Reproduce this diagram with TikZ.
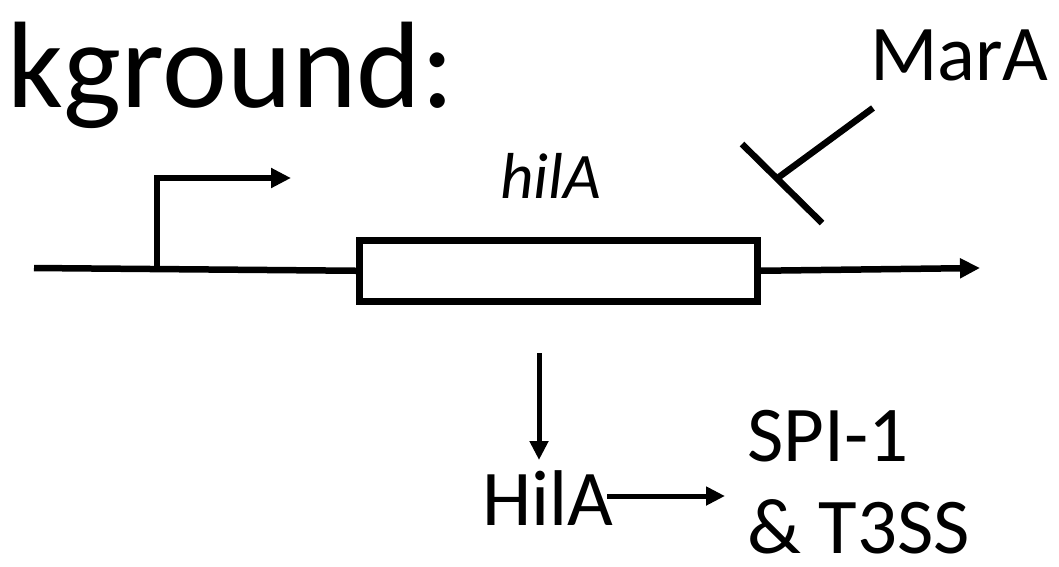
\documentclass[tikz,border=0pt]{standalone}
\usepackage{fontspec}
\setmainfont{Carlito}
\usetikzlibrary{arrows.meta}
\tikzset{
  dna/.style={line width=6.5pt},
  tip/.style={-{Triangle[length=20pt,width=19pt]}},
  thin arrow/.style={line width=5pt,-{Triangle[length=19pt,width=18pt]}},
  lbl/.style={inner sep=0pt,outer sep=0pt,anchor=base west,font=\fontsize{79}{95}\selectfont},
}
\begin{document}
\begin{tikzpicture}[x=1pt,y=-1pt]
\useasboundingbox (0,0) rectangle (1059,566);
% title
\node[lbl,font=\fontsize{123}{130}\selectfont] (title) at (8,107) {kground:};
% DNA
\coordinate (start) at (34,268);
\coordinate (prom) at (157,268);
\coordinate (promtop) at (157,178);
\coordinate (promtip) at (291,178);
\node[draw,dna,minimum width=398pt,minimum height=61pt,inner sep=0pt,anchor=north west] (gene) at (356,237) {};
\coordinate (end) at (980,268);
\draw[dna] (start) -- (gene.west);
\draw[dna,tip] (gene.east) -- (end);
\draw[dna,tip] (prom) -- (promtop) -- (promtip);
\node[lbl,font=\fontsize{65}{70}\selectfont\itshape] (hila) at (500,198) {hilA};
% MarA repression
\node[lbl] (mara) at (870,80) {MarA};
\coordinate (rstart) at (873,108);
\coordinate (rend) at (779,177);
\coordinate (bar1) at (742,144);
\coordinate (bar2) at (822,223);
\draw[dna] (rstart) -- (rend);
\draw[dna] (bar1) -- (bar2);
% protein
\node[lbl] (HilA) at (482,525) {HilA};
\coordinate (down0) at (539,353);
\coordinate (down1) at (539,460);
\draw[thin arrow] (down0) -- (down1);
\coordinate (h0) at (607,496);
\coordinate (h1) at (725,496);
\draw[thin arrow] (h0) -- (h1);
\node[lbl] (spi) at (747,461) {SPI-1};
\node[lbl] (t3ss) at (747,553) {\& T3SS};
\end{tikzpicture}
\end{document}
